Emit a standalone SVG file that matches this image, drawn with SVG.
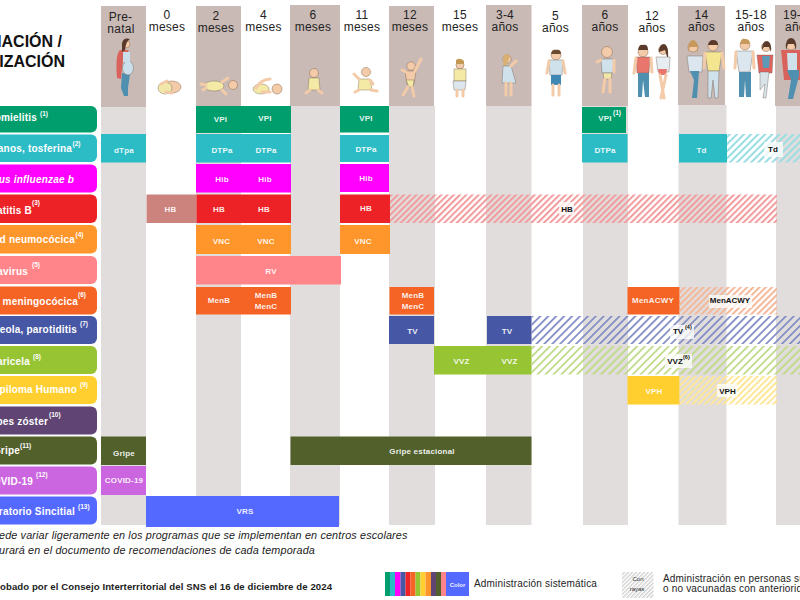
<svg xmlns="http://www.w3.org/2000/svg" width="800" height="600" viewBox="0 0 800 600">
<style>
text{font-family:"Liberation Sans",Arial,sans-serif}
.hd{font-size:12px;fill:#222;text-anchor:middle;letter-spacing:.25px}
.ti{font-size:16px;font-weight:700;fill:#111;text-anchor:end}
.lb{font-size:10px;font-weight:700;fill:#fff;text-anchor:end;letter-spacing:.2px}
.su{font-size:6.5px;font-weight:700;fill:#fff}
.c{font-size:8px;font-weight:700;fill:#fff;text-anchor:middle;letter-spacing:.2px;fill-opacity:.92}
.k{font-size:8px;font-weight:700;fill:#111;text-anchor:middle}
.ks{font-size:5.5px;font-weight:700;fill:#111}
.w{fill:#fff;fill-opacity:.75}
.fn{font-size:10.8px;font-style:italic;fill:#222;letter-spacing:.15px}
.ft{font-size:9.6px;font-weight:700;fill:#222;letter-spacing:.08px}
.lg{font-size:10px;fill:#222;letter-spacing:.18px}
.g{fill:#e0dddc}.t{fill:#c9bab6}
.sk{fill:#f3cba8;stroke:#8a6a55;stroke-width:.5}
.o{stroke:#6a5a50;stroke-width:.4}
.lm{fill:none;stroke:#f3cba8;stroke-width:3;stroke-linecap:round}
</style>
<defs>
<pattern id="hR" width="4.4" height="4.4" patternUnits="userSpaceOnUse" patternTransform="rotate(45)"><rect width="2" height="4.4" fill="#f29a9c"/></pattern>
<pattern id="hT" width="5" height="5" patternUnits="userSpaceOnUse" patternTransform="rotate(45)"><rect width="2" height="5" fill="#9adde2"/></pattern>
<pattern id="hO" width="4.4" height="4.4" patternUnits="userSpaceOnUse" patternTransform="rotate(45)"><rect width="2" height="4.4" fill="#f5b799"/></pattern>
<pattern id="hB" width="5.6" height="5.6" patternUnits="userSpaceOnUse" patternTransform="rotate(45)"><rect width="1.7" height="5.6" fill="#7d89c2"/></pattern>
<pattern id="hG" width="5.6" height="5.6" patternUnits="userSpaceOnUse" patternTransform="rotate(45)"><rect width="1.8" height="5.6" fill="#bfda88"/></pattern>
<pattern id="hY" width="4.4" height="4.4" patternUnits="userSpaceOnUse" patternTransform="rotate(45)"><rect width="2" height="4.4" fill="#ffe694"/></pattern>
<pattern id="hK" width="2.8" height="2.8" patternUnits="userSpaceOnUse" patternTransform="rotate(45)"><rect width="1.3" height="2.8" fill="#cfcfcf"/></pattern>
</defs>

<g id="columnas">
<rect class="g" x="101" y="107" width="45" height="418"/>
<rect class="g" x="196" y="106" width="45" height="419"/>
<rect class="g" x="290" y="106" width="50" height="419"/>
<rect class="g" x="389" y="106" width="46" height="419"/>
<rect class="g" x="486" y="106" width="45.500" height="419"/>
<rect class="g" x="583" y="106" width="45" height="419"/>
<rect class="g" x="678.500" y="105" width="48" height="420"/>
<rect class="g" x="776" y="106" width="24" height="419"/>
<rect class="t" x="101" y="6" width="45" height="101"/>
<rect class="t" x="196" y="6" width="45" height="100"/>
<rect class="t" x="290" y="5" width="50" height="101"/>
<rect class="t" x="389" y="6" width="45" height="100"/>
<rect class="t" x="486" y="5" width="45.500" height="101"/>
<rect class="t" x="582" y="5" width="46" height="101"/>
<rect class="t" x="678" y="6" width="47" height="99"/>
<rect class="t" x="775" y="5" width="25" height="101"/>
</g>

<g id="cabeceras">
<text class="ti" x="62" y="47">NACIÓN /</text>
<text class="ti" x="65" y="67">NIZACIÓN</text>
<text class="hd" x="120.500" y="21">Pre-</text><text class="hd" x="121" y="33">natal</text>
<text class="hd" x="167" y="19">0</text><text class="hd" x="167" y="31">meses</text>
<text class="hd" x="216" y="20">2</text><text class="hd" x="216" y="32">meses</text>
<text class="hd" x="263.500" y="19">4</text><text class="hd" x="263.500" y="31">meses</text>
<text class="hd" x="313" y="19">6</text><text class="hd" x="313" y="31">meses</text>
<text class="hd" x="362" y="19">11</text><text class="hd" x="362" y="31">meses</text>
<text class="hd" x="410" y="19">12</text><text class="hd" x="410" y="31">meses</text>
<text class="hd" x="460" y="19">15</text><text class="hd" x="460" y="31">meses</text>
<text class="hd" x="505" y="19">3-4</text><text class="hd" x="505" y="31">años</text>
<text class="hd" x="555.500" y="20">5</text><text class="hd" x="555.500" y="32">años</text>
<text class="hd" x="605" y="19">6</text><text class="hd" x="605" y="31">años</text>
<text class="hd" x="652" y="20">12</text><text class="hd" x="652" y="32">años</text>
<text class="hd" x="701.500" y="19">14</text><text class="hd" x="701.500" y="31">años</text>
<text class="hd" x="751" y="19">15-18</text><text class="hd" x="751" y="31">años</text>
<text class="hd" x="783" y="19" style="text-anchor:start">19-</text><text class="hd" x="785" y="31" style="text-anchor:start">años</text>
</g>

<g id="figuras">
<g id="f-prenatal"><path d="M122 73L121 88L124 96H128L128 88L130 74Z" fill="#4f8fb0"/><path d="M120 50Q115 55 117 78L121 79L123 60L129 50Z" fill="#d9635c"/><ellipse cx="128" cy="68" rx="5.500" ry="7" fill="#c9e0ec" class="o"/><path d="M123 52H130L130 62H123Z" fill="#c9e0ec"/><circle cx="126" cy="44" r="4" class="sk"/><path d="M122 44Q123 37 130 39Q126 41 125 50L122 52Z" fill="#5a3a2a"/></g>
<g id="f-0"><ellipse cx="172" cy="87" rx="9" ry="6" class="sk"/><ellipse cx="165" cy="88" rx="7" ry="6" fill="#f1e7a8" class="o"/><path class="lm" d="M161 84L167 81M166 92L172 93"/></g>
<g id="f-2"><ellipse cx="214" cy="86" rx="10" ry="5" fill="#f4eaa5" class="o"/><circle cx="233" cy="85" r="4.500" class="sk"/><path class="lm" stroke-width="2" d="M206 85L201 84M206 88L203 90M222 82L228 78M222 90L226 94"/></g>
<g id="f-4"><ellipse cx="261" cy="89" rx="8" ry="5" fill="#f4eaa5" class="o"/><circle cx="277" cy="89" r="5" class="sk"/><path class="lm" d="M256 88Q260 80 270 79M262 92H270"/></g>
<g id="f-6"><circle cx="314" cy="73" r="4.500" class="sk"/><path d="M309 78H319L320 90H308Z" fill="#f4eaa5" class="o"/><path class="lm" d="M310 90L306 93M318 90L322 93"/></g>
<g id="f-11"><circle cx="366" cy="72" r="4.500" class="sk"/><path d="M359 79H370L372 90H358Z" fill="#f4eaa5" class="o"/><path class="lm" d="M359 79L354 74M370 80L373 84M359 90L355 92M371 90L377 91"/></g>
<g id="f-12m"><circle cx="411" cy="66" r="4.200" class="sk"/><path d="M405 71H416L414 84H407Z" class="sk"/><path d="M406 80H414L413 87H409Z" fill="#f4eaa5" class="o"/><path class="lm" d="M415 71L421 59M406 72L402 70M408 87L403 95M412 87L414 96"/></g>
<g id="f-15"><circle cx="460" cy="65" r="4" class="sk"/><path d="M456 60Q460 57 464 61L464 64H456Z" fill="#c39a55"/><path d="M454 69H466V81H454Z" fill="#f4eaa5" class="o"/><path d="M453 81H466L465 90H454Z" fill="#dde6ec" class="o"/><path class="lm" stroke-width="2" d="M457 90V96M463 90V96"/></g>
<g id="f-34"><circle cx="507" cy="59" r="4.200" class="sk"/><path d="M504 55Q507 53 510 56L506 66L503 65Z" fill="#d8b070"/><path d="M503 66H511L516 83H502Z" fill="#cfe2ec" class="o"/><path class="lm" stroke-width="2" d="M511 66L516 61M506 83V95M511 83V95"/></g>
<g id="f-5"><circle cx="556" cy="55" r="5" class="sk"/><path d="M551 54Q552 49 556 50Q561 49 561 54Z" fill="#6b4a30"/><path d="M549 60H563L562 75H550Z" fill="#cfe2ec" class="o"/><path d="M551 75H561V85H551Z" fill="#3f88b5"/><path class="lm" stroke-width="2" d="M549 61L547 73M563 61L565 73M553 85V95M559 85V95"/></g>
<g id="f-6a"><circle cx="607" cy="52" r="5.500" class="sk"/><path d="M601 59H614L613 73H602Z" fill="#cfe2ec" class="o"/><path d="M603 73H612L611 79H604Z" fill="#f1e7a8" class="o"/><path class="lm" stroke-width="2" d="M601 60L597 62M614 60L614 72M605 79L603 92M610 79L610 92"/></g>
<g id="f-12a"><circle cx="643" cy="52" r="5" class="sk"/><path d="M638 50Q639 44 643 45Q648 44 648 50Z" fill="#5a3a2a"/><path d="M636 57H650L649 73H637Z" fill="#e8766c" class="o"/><path d="M638 73H649L649 97H645L643 80L642 97H638Z" fill="#4f8fb0"/><path class="lm" stroke-width="2.200" d="M636 58L634 73M651 58L652 72"/><circle cx="663" cy="50" r="4.500" class="sk"/><path d="M659 52Q659 44 664 44Q669 45 668 60L665 50Z" fill="#5a3a2a"/><path d="M656 57H670L669 72H658Z" fill="#e6eef2" class="o"/><path d="M658 69H667L666 75H659Z" fill="#e8766c"/><path class="lm" stroke-width="2.500" d="M660 75L664 98M666 75L661 98"/></g>
<g id="f-14"><circle cx="693" cy="47" r="5" class="sk"/><path d="M688 52Q688 40 693 40Q699 41 698 55L697 47H690Z" fill="#c79a5c"/><path d="M687 56H703L702 72H689Z" fill="#dbe6ee" class="o"/><path d="M690 71H699L697 98H692L694 80Z" fill="#4f8fb0"/><circle cx="713" cy="46" r="5" class="sk"/><path d="M708 45Q709 40 713 40Q718 40 718 45Z" fill="#5a3a2a"/><path d="M705 52H722L719 71H708Z" fill="#f4e690" class="o"/><path d="M708 71H719L718 98H715L713 80L711 98H708Z" fill="#cfe2ec" class="o"/><path class="lm" stroke-width="2.200" d="M705 53L704 68M722 53L724 68"/></g>
<g id="f-1518"><circle cx="745" cy="45" r="5" class="sk"/><path d="M740 44Q741 38 745 39Q750 39 750 44Z" fill="#c79a5c"/><path d="M736 51H753L750 72H739Z" fill="#dbe6ee" class="o"/><path d="M739 72H751L751 97H746L745 80L744 97H739Z" fill="#4f8fb0"/><path class="lm" stroke-width="2.200" d="M736 52L735 68M753 52L754 68"/><circle cx="766" cy="47" r="4.500" class="sk"/><path d="M762 50Q762 41 767 41Q772 42 771 52L769 47H764Z" fill="#5a3a2a"/><path d="M757 55H773L772 73H759Z" fill="#e0625c" class="o"/><path d="M762 56H770L769 68H763Z" fill="#5d9ab8"/><path d="M760 72H769L766 98H763L765 84L760 90Z" fill="#d9e4ea" class="o"/></g>
<g id="f-19"><circle cx="791" cy="45" r="5" class="sk"/><path d="M786 50Q785 38 791 38Q797 38 796 50L794 44H788Z" fill="#5a3a2a"/><path d="M781 50H800V80H784Z" fill="#d9635c"/><path d="M787 53H797V72H788Z" fill="#cfe2ec"/><path d="M787 70H799V76L793 99H788L791 80Z" fill="#4f8fb0"/></g>
</g>

<g id="filas">
<g id="f1"><rect x="-20" y="106" width="117" height="26.500" rx="6" fill="#009e6d"/><text class="lb" x="37" y="121">omielitis</text><text class="su" x="40" y="116">(1)</text></g>
<g id="f2"><rect x="-20" y="134.500" width="117" height="27.500" rx="6" fill="#2bbcc6"/><text class="lb" x="72" y="152">anos, tosferina</text><text class="su" x="72.500" y="146">(2)</text></g>
<g id="f3"><rect x="-20" y="164.500" width="117" height="28" rx="6" fill="#f0f"/><text class="lb" x="74" y="183" font-style="italic">lus influenzae b</text></g>
<g id="f4"><rect x="-20" y="194.500" width="117" height="28.500" rx="6" fill="#ec2227"/><text class="lb" x="32" y="214">atitis B</text><text class="su" x="32" y="205">(3)</text></g>
<g id="f5"><rect x="-20" y="225" width="117" height="28.500" rx="6" fill="#ff962b"/><text class="lb" x="75" y="243">d neumocócica</text><text class="su" x="75.500" y="237">(4)</text></g>
<g id="f6"><rect x="-20" y="256" width="117" height="28" rx="6" fill="#ff858a"/><text class="lb" x="28" y="275">avirus</text><text class="su" x="32" y="267">(5)</text></g>
<g id="f7"><rect x="-20" y="286.500" width="117" height="28" rx="6" fill="#f56425"/><text class="lb" x="78" y="305">l meningocócica</text><text class="su" x="78" y="297">(6)</text></g>
<g id="f8"><rect x="-20" y="316" width="117" height="28" rx="6" fill="#4657a6"/><text class="lb" x="77" y="333">beola, parotiditis</text><text class="su" x="80" y="326">(7)</text></g>
<g id="f9"><rect x="-20" y="346" width="117" height="28" rx="6" fill="#97c433"/><text class="lb" x="30" y="365">aricela</text><text class="su" x="33" y="359">(8)</text></g>
<g id="f10"><rect x="-20" y="376" width="117" height="28" rx="6" fill="#ffcf2f"/><text class="lb" x="77" y="393">piloma Humano</text><text class="su" x="80" y="387">(9)</text></g>
<g id="f11"><rect x="-20" y="406.500" width="117" height="28" rx="6" fill="#5f4474"/><text class="lb" x="48" y="425">pes zóster</text><text class="su" x="49" y="417">(10)</text></g>
<g id="f12"><rect x="-20" y="436.500" width="117" height="28" rx="6" fill="#52612c"/><text class="lb" x="20" y="454">Gripe</text><text class="su" x="20" y="448">(11)</text></g>
<g id="f13"><rect x="-20" y="466.500" width="117" height="28" rx="6" fill="#cc66e0"/><text class="lb" x="33" y="485">OVID-19</text><text class="su" x="36" y="477">(12)</text></g>
<g id="f14"><rect x="-20" y="496.500" width="117" height="28" rx="6" fill="#5469ff"/><text class="lb" x="75" y="515">iratorio Sincitial</text><text class="su" x="78" y="509">(13)</text></g>
</g>

<g id="celdas">
<rect x="196" y="106" width="95" height="27" fill="#009e6d"/><text class="c" x="220.500" y="122">VPI</text><text class="c" x="265" y="121">VPI</text>
<rect x="340" y="106" width="49" height="26.500" fill="#009e6d"/><text class="c" x="366" y="121">VPI</text>
<rect x="582" y="107" width="44" height="26" fill="#009e6d"/><text class="c" x="605" y="121">VPI</text><text class="su" x="613" y="115">(1)</text>

<rect x="101" y="134" width="45" height="28.500" fill="#2bbcc6"/><text class="c" x="124" y="153">dTpa</text>
<rect x="196" y="134" width="95" height="28.500" fill="#2bbcc6"/><text class="c" x="222" y="153">DTPa</text><text class="c" x="266" y="153">DTPa</text>
<rect x="340" y="135" width="49" height="27" fill="#2bbcc6"/><text class="c" x="366" y="152">DTPa</text>
<rect x="582" y="134" width="45.500" height="28.500" fill="#2bbcc6"/><text class="c" x="605" y="153">DTPa</text>
<rect x="679" y="134" width="48" height="28.500" fill="#2bbcc6"/><text class="c" x="701.500" y="153">Td</text>
<rect x="727" y="134" width="73" height="28.500" fill="url(#hT)"/><rect class="w" x="764" y="142" width="19" height="15"/><text class="k" x="773" y="152">Td</text>

<rect x="196" y="164" width="95" height="28.500" fill="#f0f"/><text class="c" x="222" y="182">Hib</text><text class="c" x="265" y="182">Hib</text>
<rect x="340" y="164" width="49" height="28" fill="#f0f"/><text class="c" x="366" y="181">Hib</text>

<rect x="146.500" y="194.500" width="50" height="28.500" fill="#cc837d"/><text class="c" x="170.500" y="212">HB</text>
<rect x="196.500" y="194.500" width="94.500" height="28.500" fill="#ec2227"/><text class="c" x="219" y="212">HB</text><text class="c" x="264" y="212">HB</text>
<rect x="340" y="194.500" width="50" height="28.500" fill="#ec2227"/><text class="c" x="366" y="211">HB</text>
<rect x="390" y="194.500" width="387" height="28.500" fill="url(#hR)"/><rect class="w" x="559" y="202" width="15" height="13"/><text class="k" x="567" y="212">HB</text>

<rect x="196" y="225" width="95" height="29" fill="#ff962b"/><text class="c" x="221.500" y="244">VNC</text><text class="c" x="266" y="244">VNC</text>
<rect x="340" y="225" width="50" height="29" fill="#ff962b"/><text class="c" x="363" y="244">VNC</text>

<rect x="196" y="256" width="145" height="28.500" fill="#ff858a"/><text class="c" x="271" y="274">RV</text>

<rect x="196" y="287" width="95" height="27.500" fill="#f56425"/><text class="c" x="219" y="303">MenB</text><text class="c" x="266" y="298">MenB</text><text class="c" x="266" y="309">MenC</text>
<rect x="389.500" y="287" width="44.500" height="27.500" fill="#f56425"/><text class="c" x="413" y="298">MenB</text><text class="c" x="413" y="309">MenC</text>
<rect x="627.500" y="287" width="52" height="27.500" fill="#f56425"/><text class="c" x="653" y="303">MenACWY</text>
<rect x="679.500" y="287" width="97.500" height="27.500" fill="url(#hO)"/><rect class="w" x="709" y="295" width="43" height="13"/><text class="k" x="730" y="303">MenACWY</text>

<rect x="389" y="316" width="45" height="28" fill="#4657a6"/><text class="c" x="412.500" y="334">TV</text>
<rect x="487" y="316" width="44.500" height="28" fill="#4657a6"/><text class="c" x="507" y="334">TV</text>
<rect x="531.500" y="316" width="268.500" height="28" fill="url(#hB)"/><rect class="w" x="670" y="325" width="24" height="14"/><text class="k" x="678" y="334">TV</text><text class="ks" x="685" y="329">(4)</text>

<rect x="434" y="346" width="97.500" height="28.500" fill="#97c433"/><text class="c" x="461.500" y="364">VVZ</text><text class="c" x="509.500" y="364">VVZ</text>
<rect x="531.500" y="346" width="268.500" height="28.500" fill="url(#hG)"/><rect class="w" x="665" y="354" width="27" height="14"/><text class="k" x="675" y="364">VVZ</text><text class="ks" x="683" y="359">(6)</text>

<rect x="627.500" y="376" width="52" height="28.500" fill="#ffcf2f"/><text class="c" x="654" y="394">VPH</text>
<rect x="679.500" y="376" width="97.500" height="28.500" fill="url(#hY)"/><rect class="w" x="717" y="384" width="20" height="13"/><text class="k" x="727.500" y="394">VPH</text>

<rect x="101" y="436.500" width="45" height="28.500" fill="#52612c"/><text class="c" x="124" y="456">Gripe</text>
<rect x="290.500" y="436.500" width="241" height="28.500" fill="#52612c"/><text class="c" x="422" y="454">Gripe estacional</text>

<rect x="101" y="466" width="45" height="29" fill="#cc66e0"/><text class="c" x="124" y="483">COVID-19</text>

<rect x="146" y="496" width="193" height="31" fill="#5469ff"/><text class="c" x="245" y="514">VRS</text>
</g>

<g id="notas">
<text class="fn" x="-1" y="539">ede variar ligeramente en los programas que se implementan en centros escolares</text>
<text class="fn" x="-1" y="554">urará en el documento de recomendaciones de cada temporada</text>
<text class="ft" x="0" y="590">obado por el Consejo Interterritorial del SNS el 16 de diciembre de 2024</text>
</g>

<g id="leyenda">
<rect x="385" y="572" width="5" height="24" fill="#009e6d"/><rect x="390" y="572" width="5" height="24" fill="#2bbcc6"/><rect x="395" y="572" width="5.500" height="24" fill="#f0f"/><rect x="400.500" y="572" width="5" height="24" fill="#4657a6"/><rect x="405.500" y="572" width="5" height="24" fill="#ec2227"/><rect x="410.500" y="572" width="5" height="24" fill="#f56425"/><rect x="415.500" y="572" width="5" height="24" fill="#97c433"/><rect x="420.500" y="572" width="5" height="24" fill="#ffcf2f"/><rect x="425.500" y="572" width="5.500" height="24" fill="#ff962b"/><rect x="431" y="572" width="5" height="24" fill="#5f4474"/><rect x="436" y="572" width="5" height="24" fill="#52612c"/><rect x="441" y="572" width="5" height="24" fill="#ff858a"/><rect x="446" y="572" width="23" height="24" fill="#5469ff"/>
<text x="457.500" y="587" font-size="6" font-weight="700" fill="#f0f0ff" text-anchor="middle">Color</text>
<text class="lg" x="474" y="587">Administración sistemática</text>
<rect x="622" y="572" width="31.500" height="26" fill="url(#hK)"/>
<text x="638" y="581" font-size="6" fill="#333" text-anchor="middle">Con</text>
<text x="637" y="591" font-size="6" fill="#333" text-anchor="middle">rayas</text>
<text class="lg" x="663" y="582">Administración en personas su</text>
<text class="lg" x="663" y="592">o no vacunadas con anteriorid</text>
</g>
</svg>
